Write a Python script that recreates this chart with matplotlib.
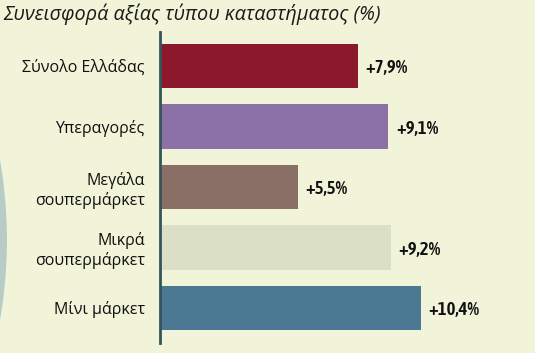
import matplotlib
matplotlib.use("Agg")
from matplotlib import pyplot as plt
from matplotlib.patches import Ellipse

categories = ["Σύνολο Ελλάδας", "Υπεραγορές", "Μεγάλα\nσουπερμάρκετ", "Μικρά\nσουπερμάρκετ", "Μίνι μάρκετ"]
values = [7.9, 9.1, 5.5, 9.2, 10.4]
colors = ["#8b182c", "#8b71a5", "#8a6f67", "#dbdfc6", "#4b7893"]
title = "Συνεισφορά αξίας τύπου καταστήματος (%)"

BG = "#f1f4d8"


def main():
    fig = plt.figure(figsize=(5.35, 3.53), dpi=100)
    fig.patch.set_facecolor(BG)

    # decorative arc on the left edge
    arc = Ellipse(((7 - 460) / 535, 1 - 240 / 353), 920 / 535, 920 / 353,
                  transform=fig.transFigure, facecolor="#b7ccc6", edgecolor="none", zorder=0)
    fig.patches.append(arc)

    ax = fig.add_axes([160 / 535, 10 / 353, 375 / 535, 311 / 353])
    ax.set_facecolor("none")
    pos = list(range(len(values)))
    ax.barh(pos, values, height=0.73, color=colors, zorder=2)

    for i, v in enumerate(values):
        lab = "+" + f"{v:.1f}".replace(".", ",") + "%"
        ax.text(v + 0.3, i + 0.04, lab, va="center", ha="left", fontsize=13.5,
                fontweight=600, family=["Asap Condensed", "DejaVu Sans"],
                color="#111111")

    ax.set_xlim(0, 375 / 25.1)
    ax.set_ylim(4 + 35 / 60.5, -34 / 60.5)
    ax.set_yticks(pos)
    ax.set_yticklabels(categories, fontsize=11.5, family=["Open Sans", "DejaVu Sans"],
                       color="#111111", linespacing=1.2)
    ax.tick_params(axis="y", length=0, pad=11)
    ax.set_xticks([])
    for s in ["top", "right", "bottom"]:
        ax.spines[s].set_visible(False)
    ax.spines["left"].set_color("#34555a")
    ax.spines["left"].set_linewidth(2)

    fig.text(0.006, 1 - 14 / 353, title, fontsize=14.3, style="italic",
             family=["Open Sans", "DejaVu Sans"], va="center", ha="left", color="#1a1a1a")

    fig.savefig("out.png", dpi=100, facecolor=BG)


if __name__ == '__main__':
    main()
